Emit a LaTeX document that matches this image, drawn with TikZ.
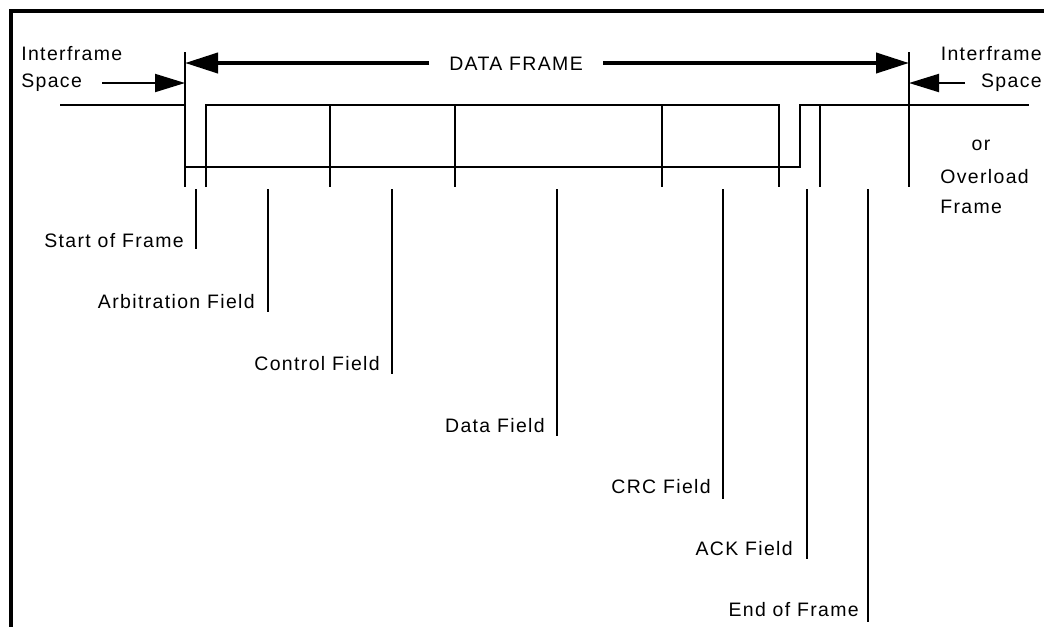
\documentclass[tikz,border=0pt]{standalone}
\usepackage{fontspec}
\setmainfont{Liberation Sans}[LetterSpace=7]
\usetikzlibrary{arrows.meta}
\begin{document}
\begin{tikzpicture}[x=0.75pt,y=-0.75pt,
  font=\fontsize{14.6}{17}\selectfont,
  sig/.style={line width=1.5pt},
  lead/.style={line width=2.2pt},
  lbl/.style={inner sep=0pt, anchor=base east},
  txt/.style={inner sep=0pt},
  bigarrow/.style={line width=3pt,-{Triangle[length=24.75pt,width=15pt]}},
  smallarrow/.style={line width=1.5pt,-{Triangle[length=22.5pt,width=13.5pt]}}]
\useasboundingbox (0,0) rectangle (1044,626);
\clip (0,0) rectangle (1044,626);
% outer frame (cropped)
\draw[line width=3pt] (11,640) -- (11,11) -- (1060,11);

% frame boundaries
\coordinate (fs) at (185,52);
\coordinate (fsb) at (185,187);
\coordinate (fe) at (909,52);
\coordinate (feb) at (909,187);
\draw[sig] (fs) -- (fsb);
\draw[sig] (fe) -- (feb);

% DATA FRAME arrow
\node[txt, inner xsep=15pt] (df) at (516,64) {DATA FRAME};
\coordinate (dfl) at (185,63);
\coordinate (dfr) at (909,63);
\draw[bigarrow] (df.west |- dfl) -- (dfl);
\draw[bigarrow] (df.east |- dfr) -- (dfr);

% Interframe space labels
\node[txt, anchor=base west] (ifl1) at (21,60) {Interframe};
\node[txt, anchor=base west] (ifl2) at (21,87) {Space};
\coordinate (ifla) at (102,83);
\coordinate (iflb) at (185,83);
\draw[smallarrow] (ifla) -- (iflb);

\node[txt, anchor=base east] (ifr1) at (1042,60) {Interframe};
\node[txt, anchor=base east] (ifr2) at (1042,87) {Space};
\coordinate (ifra) at (965,83);
\coordinate (ifrb) at (909,83);
\draw[smallarrow] (ifra) -- (ifrb);

\node[txt, anchor=base] (or) at (981,150) {or};
\node[txt, anchor=base west] (ov) at (940,183) {Overload};
\node[txt, anchor=base west] (ofr) at (940,213) {Frame};

% bus signal
\draw[sig] (60,105) -- (185,105);
\draw[sig] (185,167) -- (800,167) -- (800,105) -- (1029,105);
\draw[sig] (206,187) -- (206,105) -- (779,105) -- (779,187);
\foreach \x in {330,455,662} \draw[sig] (\x,105) -- (\x,187);
\draw[sig] (820,105) -- (820,187);

% field labels and leaders
\node[lbl] (sof) at (184,247) {Start of Frame};
\coordinate (sofa) at (196,189); \coordinate (sofb) at (196,249);
\draw[lead] (sofa) -- (sofb);

\node[lbl] (arb) at (255,308) {Arbitration Field};
\coordinate (arba) at (268,189); \coordinate (arbb) at (268,312);
\draw[lead] (arba) -- (arbb);

\node[lbl] (ctl) at (380,370) {Control Field};
\coordinate (ctla) at (392,189); \coordinate (ctlb) at (392,374);
\draw[lead] (ctla) -- (ctlb);

\node[lbl] (dat) at (545,432) {Data Field};
\coordinate (data) at (557,189); \coordinate (datb) at (557,436);
\draw[lead] (data) -- (datb);

\node[lbl] (crc) at (711,493) {CRC Field};
\coordinate (crca) at (723,189); \coordinate (crcb) at (723,499);
\draw[lead] (crca) -- (crcb);

\node[lbl] (ack) at (793,555) {ACK Field};
\coordinate (acka) at (807,189); \coordinate (ackb) at (807,559);
\draw[lead] (acka) -- (ackb);

\node[lbl] (eof) at (859,616) {End of Frame};
\coordinate (eofa) at (868,189); \coordinate (eofb) at (868,622);
\draw[lead] (eofa) -- (eofb);
\end{tikzpicture}
\end{document}
